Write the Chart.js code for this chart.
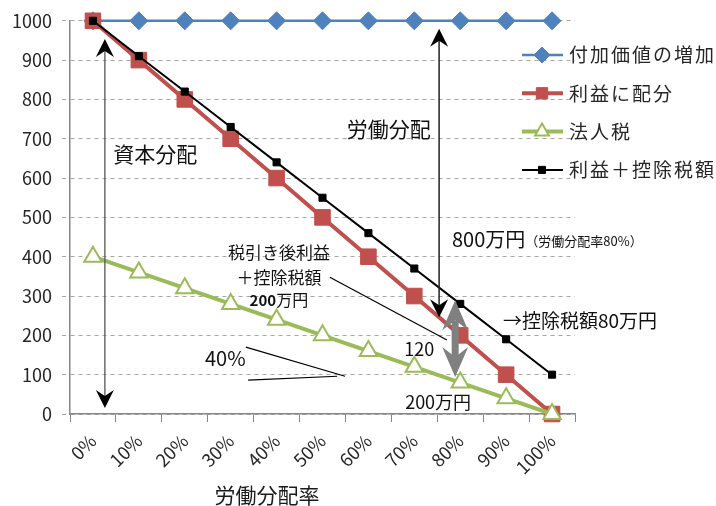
<!DOCTYPE html>
<html lang="ja">
<head>
<meta charset="utf-8">
<title>労働分配率</title>
<script src="https://cdn.jsdelivr.net/npm/chart.js@4.4.1/dist/chart.umd.min.js"></script>
<style>
  html, body { margin: 0; padding: 0; background: #fff; }
  #wrap { width: 716px; height: 506px; }
</style>
</head>
<body>
<div id="wrap"><canvas id="grafico" width="716" height="506"></canvas></div>
<script>
// dados
var categorias = ['0%', '10%', '20%', '30%', '40%', '50%', '60%', '70%', '80%', '90%', '100%'];
var fukaKachi = [1000, 1000, 1000, 1000, 1000, 1000, 1000, 1000, 1000, 1000, 1000];
var riekiHaibun = [1000, 900, 800, 700, 600, 500, 400, 300, 200, 100, 0];
var houjinZei = [400, 360, 320, 280, 240, 200, 160, 120, 80, 40, 0];
var riekiKoujo = [1000, 910, 820, 730, 640, 550, 460, 370, 280, 190, 100];
var nomes = ['付加価値の増加', '利益に配分', '法人税', '利益＋控除税額'];
var eixoY = { min: 0, max: 1000, passo: 100 };

var FONTE = '"Noto Sans CJK JP", "Noto Sans", sans-serif';
var AZUL = '#4F81BD', VERMELHO = '#C0504D', VERDE = '#9BBB59', PRETO = '#000000';

// ponta de seta estilo Excel (dir = -1 aponta para cima, 1 para baixo)
function ponta(ctx, x, y, dir, comp, meia, entalhe, cor) {
    ctx.beginPath();
    ctx.moveTo(x, y);
    ctx.lineTo(x - meia, y - dir * comp);
    ctx.lineTo(x, y - dir * entalhe);
    ctx.lineTo(x + meia, y - dir * comp);
    ctx.closePath();
    ctx.fillStyle = cor;
    ctx.fill();
}

function linha(ctx, x1, y1, x2, y2, cor, larg) {
    ctx.beginPath();
    ctx.moveTo(x1, y1);
    ctx.lineTo(x2, y2);
    ctx.strokeStyle = cor;
    ctx.lineWidth = larg;
    ctx.stroke();
}

function texto(ctx, t, x, y, tam, peso, alinh, cor) {
    ctx.font = (peso || 'normal') + ' ' + tam + 'px ' + FONTE;
    ctx.textAlign = alinh || 'left';
    ctx.textBaseline = 'middle';
    ctx.fillStyle = cor || '#111';
    ctx.fillText(t, x, y);
    return ctx.measureText(t).width;
}

var anotacoes = {
    id: 'anotacoes',
    afterDatasetsDraw: function (chart) {
        var ctx = chart.ctx, xs = chart.scales.x, ys = chart.scales.y;
        function px(i) { return xs.getPixelForValue(i); }
        function py(v) { return ys.getPixelForValue(v); }
        ctx.save();

        // 資本分配
        var xa = px(0.26);
        linha(ctx, xa, py(954) + 10, xa, py(15) - 10, '#555', 1.3);
        ponta(ctx, xa, py(954), -1, 18, 9, 12, '#000');
        ponta(ctx, xa, py(15), 1, 18, 9, 12, '#000');
        texto(ctx, '資本分配', px(0.44), py(662), 21);

        // 労働分配
        var xb = px(7.54);
        linha(ctx, xb, py(980) + 10, xb, py(246) - 10, '#222', 1.5);
        ponta(ctx, xb, py(980), -1, 18, 9, 12, '#000');
        ponta(ctx, xb, py(246), 1, 18, 9, 12, '#000');
        texto(ctx, '労働分配', px(5.53), py(726), 21);

        var w = texto(ctx, '800万円', px(7.82), py(444), 20);
        texto(ctx, '（労働分配率80%）', px(7.82) + w, py(444) + 2, 13);

        // seta cinza grossa
        var xc = px(7.89);
        linha(ctx, xc, py(289) + 20, xc, py(94) - 20, '#808080', 7);
        ponta(ctx, xc, py(289), -1, 30, 13, 20, '#808080');
        ponta(ctx, xc, py(94), 1, 30, 13, 20, '#808080');

        texto(ctx, '→控除税額80万円', px(8.93), py(236), 19);
        texto(ctx, '120', px(6.78), py(165), 18);
        texto(ctx, '200万円', px(6.8), py(30), 18);

        // 税引き後利益
        texto(ctx, '税引き後利益', px(4.05), py(411), 17, 'normal', 'center');
        texto(ctx, '＋控除税額', px(4.05), py(348), 17, 'normal', 'center');
        ctx.font = 'bold 15px ' + FONTE;
        var w1 = ctx.measureText('200').width;
        ctx.font = 'normal 16px ' + FONTE;
        var w2 = ctx.measureText('万円').width;
        var x0 = px(4.05) - (w1 + w2) / 2;
        texto(ctx, '200', x0, py(289), 15, 'bold');
        texto(ctx, '万円', x0 + w1, py(289), 16);
        linha(ctx, px(5.16), py(348), px(7.71), py(188), '#000', 1.2);

        // 40%
        texto(ctx, '40%', px(2.44), py(142), 20);
        linha(ctx, px(3.33), py(170), px(5.49), py(96), '#000', 1.2);
        linha(ctx, px(3.38), py(86), px(5.32), py(96), '#000', 1.2);

        ctx.restore();
    },
    afterDraw: function (chart) {
        var ctx = chart.ctx, area = chart.chartArea, xs = chart.scales.x;
        ctx.save();
        // legenda
        var lx = area.right - 53, ly = 55, passo = 38.3;
        chart.data.datasets.forEach(function (ds, i) {
            var y = ly + i * passo;
            var cx = lx + 20;
            linha(ctx, lx, y, lx + 41, y, ds.borderColor, ds.borderWidth);
            ctx.fillStyle = ds.pointBackgroundColor;
            ctx.strokeStyle = ds.borderColor;
            ctx.lineWidth = ds.pointBorderWidth;
            ctx.beginPath();
            var r = Math.min(ds.pointRadius, 8);
            if (ds.pointStyle === 'rect') { var s = r * Math.SQRT1_2; ctx.rect(cx - s, y - s, 2 * s, 2 * s); }
            else if (ds.pointStyle === 'rectRot') { ctx.moveTo(cx - r, y); ctx.lineTo(cx, y - r); ctx.lineTo(cx + r, y); ctx.lineTo(cx, y + r); ctx.closePath(); }
            else if (ds.pointStyle === 'triangle') { ctx.moveTo(cx - r * 0.87, y + r * 0.5); ctx.lineTo(cx, y - r); ctx.lineTo(cx + r * 0.87, y + r * 0.5); ctx.closePath(); }
            ctx.fill();
            ctx.stroke();
            ctx.letterSpacing = '2px';
            texto(ctx, ds.label, lx + 47, y, 19, 'normal', 'left', '#262626');
            ctx.letterSpacing = '0px';
        });
        // título do eixo x
        texto(ctx, '労働分配率', xs.getPixelForValue(3.79), xs.bottom - 11, 21, 'normal', 'center', '#1a1a1a');
        ctx.restore();
    }
};

var ctx = document.getElementById('grafico').getContext('2d');
var myChart = new Chart(ctx, {
    type: 'line',
    data: {
        labels: categorias,
        datasets: [
            {
                label: nomes[0], data: fukaKachi, order: 4, clip: false,
                borderColor: AZUL, backgroundColor: AZUL, borderWidth: 2.5,
                pointStyle: 'rectRot', pointRadius: 9, pointBackgroundColor: AZUL, pointBorderColor: AZUL, pointBorderWidth: 1
            },
            {
                label: nomes[1], data: riekiHaibun, order: 3, clip: false,
                borderColor: VERMELHO, backgroundColor: VERMELHO, borderWidth: 4,
                pointStyle: 'rect', pointRadius: 11, pointBackgroundColor: VERMELHO, pointBorderColor: VERMELHO, pointBorderWidth: 1
            },
            {
                label: nomes[2], data: houjinZei, order: 2, clip: false,
                borderColor: VERDE, backgroundColor: '#fff', borderWidth: 4,
                pointStyle: 'triangle', pointRadius: 10, pointBackgroundColor: '#fff', pointBorderColor: VERDE, pointBorderWidth: 2
            },
            {
                label: nomes[3], data: riekiKoujo, order: 1, clip: false,
                borderColor: PRETO, backgroundColor: PRETO, borderWidth: 2,
                pointStyle: 'rect', pointRadius: 5, pointBackgroundColor: PRETO, pointBorderColor: PRETO, pointBorderWidth: 1
            }
        ]
    },
    options: {
        responsive: false,
        animation: false,
        events: [],
        layout: { padding: { top: 20, right: 141, left: 0, bottom: 0 } },
        plugins: { legend: { display: false }, tooltip: { enabled: false } },
        scales: {
            x: {
                offset: true,
                grid: { display: true, drawOnChartArea: false, drawTicks: true, tickLength: 8, color: '#868686', offset: true },
                border: { display: true, color: '#868686', width: 1.5 },
                ticks: { minRotation: 45, maxRotation: 45, color: '#262626', padding: 8, font: { family: FONTE, size: 18 } },
                afterFit: function (scale) { scale.height = 92; }
            },
            y: {
                min: eixoY.min, max: eixoY.max,
                grid: { color: '#a6a6a6', lineWidth: 1, tickLength: 8, tickBorderDash: [4, 4], tickColor: '#a6a6a6' },
                border: { display: true, color: '#868686', width: 1.5, dash: [4, 4] },
                ticks: {
                    stepSize: eixoY.passo, color: '#262626', padding: 10, font: { family: FONTE, size: 18 },
                    callback: function (v) { return String(v); }
                },
                afterFit: function (scale) { scale.width = 70; }
            }
        }
    },
    plugins: [anotacoes]
});
</script>
</body>
</html>
